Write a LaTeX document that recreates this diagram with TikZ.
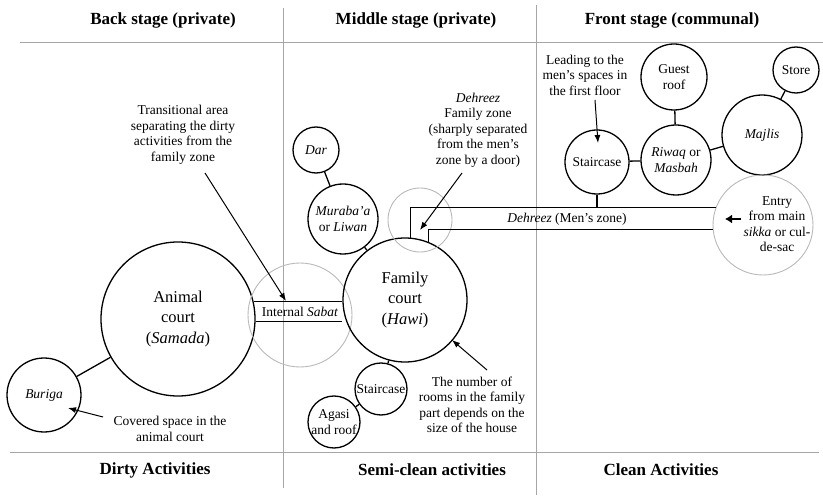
\documentclass[tikz,border=0pt]{standalone}
\usepackage{fontspec}
\setmainfont{Liberation Serif}
\usetikzlibrary{arrows.meta, positioning}

\begin{document}
\begin{tikzpicture}[x=1pt,y=-1pt,>={Latex[length=8pt,width=6pt]}]
    \tikzstyle{room}=[shape=circle,draw,line width=1.3pt,inner sep=0pt,align=center,font=\fontsize{13.5}{15.5}\selectfont]
    \tikzstyle{court}=[room,font=\fontsize{16.5}{20.5}\selectfont]
    \tikzstyle{zone}=[shape=circle,draw=gray!55,line width=0.9pt,inner sep=0pt]
    \tikzstyle{note}=[align=center,inner sep=0pt,font=\fontsize{13.5}{15.5}\selectfont]
    \tikzstyle{head}=[font=\fontsize{17}{20}\selectfont\bfseries]
    \tikzstyle{rule}=[draw=gray!70,line width=0.8pt]
    \tikzstyle{wall}=[line width=1.3pt]

    \useasboundingbox (0,0) rectangle (823,497);

    % stage columns
    \draw[rule] (20,42) -- (823,42);
    \draw[rule] (10,452) -- (819,452);
    \draw[rule] (283,8) -- (283,488);
    \draw[rule] (536,5) -- (536,495);

    \node[head] (H1) at (163,20) {Back stage (private)};
    \node[head] (H2) at (416,20) {Middle stage (private)};
    \node[head] (H3) at (672,20) {Front stage (communal)};
    \node[head] (L1) at (155,470) {Dirty Activities};
    \node[head] (L2) at (432,470) {Semi-clean activities};
    \node[head] (L3) at (661,470) {Clean Activities};

    % back stage
    \node[court,minimum size=154pt] (B1) at (178,319) {Animal\\court\\(\textit{Samada})};
    \node[room,minimum size=74pt] (B2) at (44,395) {\textit{Buriga}};
    \node[zone,minimum size=104pt] (B3) at (300,315) {};
    \node[note] (S1) at (300,312) {Internal \textit{Sabat}};

    % middle stage
    \node[court,minimum size=124pt] (M1) at (405,300) {Family\\court\\(\textit{Hawi})};
    \node[room,minimum size=70pt] (M2) at (343,219) {\textit{Muraba'a}\\or \textit{Liwan}};
    \node[room,minimum size=46pt] (M3) at (316,150) {\textit{Dar}};
    \node[zone,minimum size=64pt] (M4) at (420,220) {};
    \node[room,minimum size=52pt] (M5) at (381,389) {Staircase};
    \node[room,minimum size=52pt] (M6) at (334,422) {Agasi\\and roof};

    % front stage
    \node[room,minimum size=64pt] (F1) at (597,162) {Staircase};
    \node[room,minimum size=70pt] (F2) at (676,160) {\textit{Riwaq} or\\\textit{Masbah}};
    \node[room,minimum size=66pt] (F3) at (674,77) {Guest\\roof};
    \node[room,minimum size=80pt] (F4) at (762,135) {\textit{Majlis}};
    \node[room,minimum size=46pt] (F5) at (796,70) {Store};
    \node[zone,minimum size=100pt] (E1) at (763,225) {};
    \node[note] (E2) at (777,224) {Entry\\from main\\\textit{sikka} or cul-\\de-sac};
    \node[note] (D1) at (567,219) {\textit{Dehreez} (Men's zone)};

    % notes
    \node[note] (N1) at (183,135) {Transitional area\\separating the dirty\\activities from the\\family zone};
    \node[note] (N2) at (478,130) {\textit{Dehreez}\\Family zone\\(sharply separated\\from the men's\\zone by a door)};
    \node[note] (N3) at (585,75) {Leading to the\\men's spaces in\\the first floor};
    \node[note] (N4) at (472,405) {The number of\\rooms in the family\\part depends on the\\size of the house};
    \node[note] (N5) at (170,429) {Covered space in the\\animal court};

    % passages
    \draw[wall] (B1.13.5) -- (B1.13.5 -| M1.west);
    \draw[wall] (B1.-2) -- (B1.-2 -| M1.west);
    \draw[wall] (M1.85) |- (E1.160);
    \draw[wall] (M1.68) |- (E1.185);
    \draw[wall] (F1.south) -- (F1.south |- E1.160);

    \path[wall]
    (B1) edge (B2)
    (M1) edge (M2)
    (M2) edge (M3)
    (M1) edge (M5)
    (M5) edge (M6)
    (F1) edge (F2)
    (F2) edge (F3)
    (F2) edge (F4)
    (F4) edge (F5)
   ;

    \coordinate (t1) at (205,173);
    \coordinate (t2) at (286,301);
    \coordinate (t3) at (462,173);
    \coordinate (t4) at (420,230);
    \coordinate (t5) at (595,100);
    \coordinate (t6) at (598,143);
    \coordinate (t7) at (487,370);
    \coordinate (t8) at (452,340);
    \coordinate (b1) at (103,417);
    \coordinate (b2) at (68,408);
    \coordinate (a0) at (741,219);
    \coordinate (a1) at (725,219);

    \path[->,line width=1pt]
    (t1) edge (t2)
    (t3) edge (t4)
    (t5) edge (t6)
    (t7) edge (t8)
    (b1) edge (b2)
   ;
    \draw[line width=1.8pt,-{Latex[length=7pt,width=9pt]}] (a0) -- (a1);

  \end{tikzpicture}
\end{document}
